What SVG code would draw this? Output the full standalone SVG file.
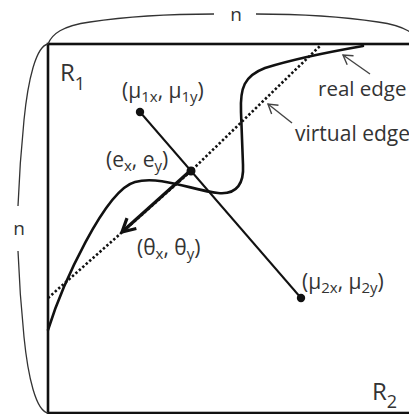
<svg xmlns="http://www.w3.org/2000/svg" width="409" height="414" viewBox="0 0 409 414">
<style>
  .lbl { font-family: "Open Sans", "Liberation Sans", sans-serif; font-size: 21px; fill: #333; }
  .sub { font-size: 15px; }
  .dim { font-family: "Open Sans", "Liberation Sans", sans-serif; font-size: 19px; fill: #333; }
  .big { font-family: "Open Sans", "Liberation Sans", sans-serif; font-size: 24px; fill: #333; }
  .bsub { font-size: 18px; }
  .brace { fill: none; stroke: #333; stroke-width: 1.3; }
  .frame { fill: none; stroke: #111; stroke-width: 2.6; }
  .edge { fill: none; stroke: #111; stroke-width: 2.6; stroke-linecap: round; }
  .virt { fill: none; stroke: #111; stroke-width: 2.6; stroke-dasharray: 2.4 2.2; }
  .seg { fill: none; stroke: #111; stroke-width: 2; }
  .ptr { fill: none; stroke: #444; stroke-width: 1.4; }
  .dir { fill: none; stroke: #111; stroke-width: 3.2; }
  .dot { fill: #111; }
</style>
<defs>
  <marker id="thin" markerUnits="userSpaceOnUse" markerWidth="20" markerHeight="20" refX="0" refY="0" orient="auto" viewBox="-12 -10 20 20" overflow="visible">
    <path d="M-9,-5.5 L0,0 L-9,5.5" fill="none" stroke="#444" stroke-width="1.4"/>
  </marker>
  <marker id="thick" markerUnits="userSpaceOnUse" markerWidth="30" markerHeight="30" refX="0" refY="0" orient="auto" viewBox="-15 -15 30 30" overflow="visible">
    <path d="M-13,-7 L0,0 L-13,7" fill="none" stroke="#111" stroke-width="3.2" stroke-linejoin="miter"/>
  </marker>
</defs>

<g id="frame">
  <rect class="frame" x="48" y="44" width="372" height="369"/>
</g>

<g id="dimensions">
  <path class="brace" d="M48,44 C52,34 62,26 90,22 C130,16 180,14 214,14"/>
  <path class="brace" d="M256,14 C290,14 338,16 378,22 C406,26 416,34 420,44"/>
  <text class="dim" x="236" y="21" text-anchor="middle">n</text>
  <path class="brace" d="M48,44 C36,46 28,80 24,120 C21,150 19,180 18,206"/>
  <path class="brace" d="M18,251 C19,277 21,307 24,337 C28,377 36,411 48,413"/>
  <text class="dim" x="19" y="235" text-anchor="middle">n</text>
</g>

<g id="connectors">
  <path id="virtual-edge" class="virt" d="M48,298 L191,171 L321,45"/>
  <path id="real-edge" class="edge" d="M48,330 C62,285 105,190 135,182 C160,175 195,191 218,193 C238,195 244,182 243,165 L241,112 C240,88 244,76 265,68 C300,57 340,50 363,46"/>
  <path id="mu-line" class="seg" d="M140,112 L301,298"/>
  <path id="theta-arrow" class="dir" d="M190,171 L122,232" marker-end="url(#thick)"/>
  <path id="real-ptr" class="ptr" d="M370,74 L343,55" marker-end="url(#thin)"/>
  <path id="virt-ptr" class="ptr" d="M292,123 L268,104" marker-end="url(#thin)"/>
</g>

<g id="R1">
  <text class="big" x="60" y="81">R<tspan class="bsub" dy="9">1</tspan></text>
</g>
<g id="R2">
  <text class="big" x="372" y="400">R<tspan class="bsub" dy="8">2</tspan></text>
</g>

<g id="mu1">
  <circle class="dot" cx="140" cy="112" r="4.2"/>
  <text class="lbl" x="122" y="98">(μ<tspan class="sub" dy="4">1x</tspan><tspan dy="-4">, μ</tspan><tspan class="sub" dy="4">1y</tspan><tspan dy="-4">)</tspan></text>
</g>

<g id="e">
  <circle class="dot" cx="191" cy="171" r="4.5"/>
  <text class="lbl" x="106" y="167">(e<tspan class="sub" dy="4">x</tspan><tspan dy="-4">, e</tspan><tspan class="sub" dy="4">y</tspan><tspan dy="-4">)</tspan></text>
</g>

<g id="theta">
  <text class="lbl" x="137" y="255">(θ<tspan class="sub" dy="4">x</tspan><tspan dy="-4">, θ</tspan><tspan class="sub" dy="4">y</tspan><tspan dy="-4">)</tspan></text>
</g>

<g id="mu2">
  <circle class="dot" cx="301" cy="298" r="4.2"/>
  <text class="lbl" x="302" y="289">(μ<tspan class="sub" dy="4">2x</tspan><tspan dy="-4">, μ</tspan><tspan class="sub" dy="4">2y</tspan><tspan dy="-4">)</tspan></text>
</g>

<g id="labels">
  <text class="lbl" x="318" y="96" style="font-size:20.5px">real edge</text>
  <text class="lbl" x="295" y="141">virtual edge</text>
</g>
</svg>
